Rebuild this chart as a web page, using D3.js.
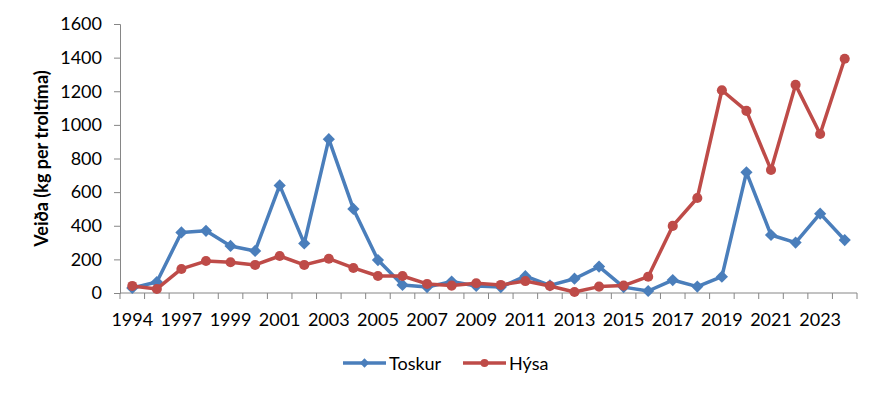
<!DOCTYPE html>
<html>
<head>
<meta charset="utf-8">
<script src="https://cdn.jsdelivr.net/npm/d3@7"></script>
<style>
  body { margin: 0; background: #fff; }
  text { font-family: Lato, "Open Sans", sans-serif; fill: #000; }
</style>
</head>
<body>
<div class="canvas"></div>
<script>
// categories (1996 is not in the series)
const years = ['1994','1995','1997','1998','1999','2000','2001','2002','2003','2004',
  '2005','2006','2007','2008','2009','2010','2011','2012','2013','2014',
  '2015','2016','2017','2018','2019','2020','2021','2022','2023','2024']
const toskur = [30, 65, 360, 370, 280, 250, 640, 295, 915, 500,
  196, 48, 35, 68, 42, 35, 100, 45, 85, 157,
  35, 12, 77, 38, 97, 718, 345, 300, 472, 315]
const hysa = [42, 24, 143, 190, 183, 167, 220, 167, 204, 149,
  101, 101, 54, 44, 58, 48, 71, 42, 6, 38,
  44, 97, 399, 565, 1206, 1083, 732, 1238, 946, 1393]
const yTicks = [0, 200, 400, 600, 800, 1000, 1200, 1400, 1600]

const dims = {width: 888, height: 397}
const plot = {left: 120, right: 857, top: 24, bottom: 293}
const fs = '18px'

const svg = d3.select('.canvas')
    .append('svg')
    .attr('width', dims.width)
    .attr('height', dims.height)

const x = d3.scaleBand()
    .domain(years)
    .range([plot.left, plot.right])

const y = d3.scaleLinear()
    .domain([0, 1600])
    .range([plot.bottom, plot.top])

const axisCol = '#868686'

// y axis
const yAxis = svg.append('g')
    .attr('transform', `translate(${plot.left},0)`)
    .call(d3.axisLeft(y).tickValues(yTicks).tickSize(6).tickPadding(12).tickFormat(d3.format('d')))
yAxis.select('.domain').attr('stroke', axisCol)
yAxis.selectAll('line').attr('stroke', axisCol)
yAxis.selectAll('text').style('font-size', fs).attr('fill', '#000')

// x axis - ticks sit between categories, label every other year
const xAxis = svg.append('g')
    .attr('transform', `translate(0,${plot.bottom})`)
xAxis.append('line')
    .attr('x1', plot.left).attr('x2', plot.right)
    .attr('stroke', axisCol)
const bounds = years.map(d => x(d)).concat([plot.right])
xAxis.selectAll('.tk')
    .data(bounds)
    .enter().append('line')
    .attr('x1', d => d).attr('x2', d => d)
    .attr('y1', 0).attr('y2', 6)
    .attr('stroke', axisCol)
xAxis.selectAll('.lbl')
    .data(years.filter((d, i) => i % 2 === 0))
    .enter().append('text')
    .attr('x', d => x(d) + x.bandwidth() / 2)
    .attr('y', 33)
    .attr('text-anchor', 'middle')
    .style('font-size', fs)
    .text(d => d)

// y title
svg.append('text')
    .attr('transform', `translate(48,${(plot.top + plot.bottom) / 2}) rotate(-90)`)
    .attr('text-anchor', 'middle')
    .style('font-size', fs)
    .style('font-weight', 'bold')
    .text('Veiða (kg per troltíma)')

const series = [
    {name: 'Toskur', values: toskur, colour: '#4a7ebb', shape: d3.symbolDiamond2},
    {name: 'Hýsa', values: hysa, colour: '#be4b48', shape: d3.symbolCircle}
]

const line = d3.line()
    .x((d, i) => x(years[i]) + x.bandwidth() / 2)
    .y(d => y(d))

series.forEach(s => {
    const g = svg.append('g')
    g.append('path')
        .attr('d', line(s.values))
        .attr('fill', 'none')
        .attr('stroke', s.colour)
        .attr('stroke-width', 3.5)
        .attr('stroke-linejoin', 'round')
    g.selectAll('path.mk')
        .data(s.values)
        .enter().append('path')
        .attr('class', 'mk')
        .attr('transform', (d, i) => `translate(${x(years[i]) + x.bandwidth() / 2},${y(d)})`)
        .attr('d', d3.symbol().type(s.shape).size(s.shape === d3.symbolCircle ? 80 : 95))
        .attr('fill', s.colour)
})

// legend
const legend = svg.append('g').attr('transform', 'translate(343,363)')
const legX = [0, 120]
series.forEach((s, i) => {
    const lg = legend.append('g').attr('transform', `translate(${legX[i]},0)`)
    lg.append('line')
        .attr('x1', 0).attr('x2', 43)
        .attr('stroke', s.colour).attr('stroke-width', 3.5)
    lg.append('path')
        .attr('transform', 'translate(21.5,0)')
        .attr('d', d3.symbol().type(s.shape).size(s.shape === d3.symbolCircle ? 50 : 55))
        .attr('fill', s.colour)
    lg.append('text')
        .attr('x', 46).attr('y', 6.5)
        .style('font-size', fs)
        .text(s.name)
})
</script>
</body>
</html>
